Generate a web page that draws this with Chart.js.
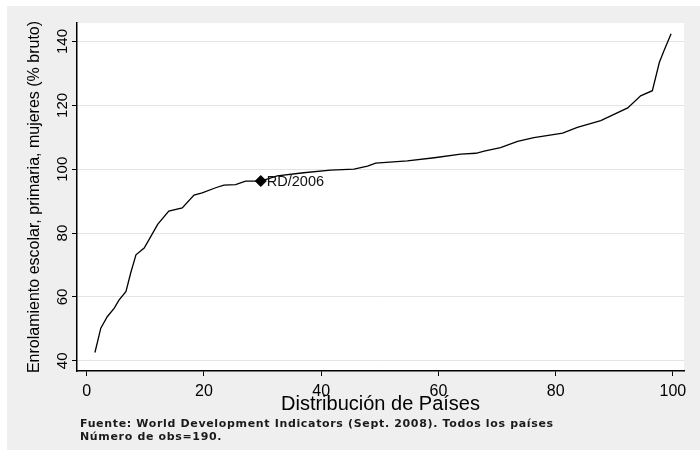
<!DOCTYPE html>
<html>
<head>
<meta charset="utf-8">
<script src="https://cdn.jsdelivr.net/npm/chart.js@4.4.1/dist/chart.umd.min.js"></script>
<style>
  html, body { margin: 0; padding: 0; background: #fff; }
  #wrap { width: 700px; height: 458px; }
</style>
</head>
<body>
<div id="wrap"><canvas id="chart" width="700" height="458"></canvas></div>
<script>
// percentil de países (eje x) y enrolamiento femenino primario (% bruto)
const paisX = [1.4, 2.4, 3.5, 4.7, 5.5, 6.7, 7.5, 8.4, 9.8, 10.8, 12.1, 14, 16.3, 18.3, 19.7,
  22, 23.4, 25.4, 27.1, 29.7, 32.5, 37, 41.6, 45.6, 47.9, 49.3, 54.7, 59.3, 63.8,
  66.4, 67.8, 70.6, 73.5, 76.3, 81.2, 83.7, 87.7, 92.3, 94.5, 96.5, 97.7, 98.5, 99.7];
const enrolY = [42.6, 50.2, 53.8, 56.5, 59, 61.7, 67.5, 73.2, 75.3, 78.5, 82.7, 86.9, 87.9, 91.9, 92.6,
  94.2, 95, 95.2, 96.3, 96.3, 97.9, 98.9, 99.7, 100, 101, 101.9, 102.6, 103.6, 104.7,
  105, 105.7, 106.8, 108.7, 109.9, 111.3, 113.1, 115.2, 119.2, 123, 124.6, 133.5, 137.2, 142.4];

// República Dominicana
const rdX = [29.7];
const rdY = [96.3];
const rdEtiqueta = 'RD/2006';

const xTicks = [0, 20, 40, 60, 80, 100];
const yTicks = [40, 60, 80, 100, 120, 140];

const tituloX = 'Distribución de Países';
const tituloY = 'Enrolamiento escolar, primaria, mujeres (% bruto)';
const notas = [
  'Fuente: World Development Indicators (Sept. 2008). Todos los países',
  'Número de obs=190.'
];

const FONT = '"Liberation Sans", Arial, sans-serif';

const fondo = {
  id: 'fondo',
  beforeDraw(chart) {
    const ctx = chart.ctx, a = chart.chartArea;
    ctx.save();
    ctx.fillStyle = '#fff';
    ctx.fillRect(0, 0, chart.width, chart.height);
    ctx.fillStyle = '#efefef';
    ctx.fillRect(7, 6, chart.width - 7, 444);
    ctx.fillStyle = '#fff';
    ctx.fillRect(a.left, a.top, a.right - a.left, a.bottom - a.top);
    ctx.restore();
  }
};

const etiquetaRD = {
  id: 'etiquetaRD',
  afterDatasetsDraw(chart) {
    const pt = chart.getDatasetMeta(1).data[0];
    if (!pt) return;
    const ctx = chart.ctx;
    ctx.save();
    ctx.font = '14.5px ' + FONT;
    ctx.fillStyle = '#111';
    ctx.textBaseline = 'middle';
    ctx.fillText(rdEtiqueta, pt.x + 6, pt.y + 0.5);
    ctx.restore();
  }
};

// nota al pie, estirada para ocupar el mismo ancho que en la figura original
const nota = {
  id: 'nota',
  afterDraw(chart) {
    const ctx = chart.ctx;
    ctx.save();
    ctx.font = 'bold 11px "DejaVu Sans", sans-serif';
    ctx.fillStyle = '#1a1a1a';
    ctx.textBaseline = 'alphabetic';
    const w = ctx.measureText(notas[0]).width;
    const extra = Math.max(0, (473 - w) / (notas[0].length - 1));
    ctx.letterSpacing = extra.toFixed(2) + 'px';
    notas.forEach((t, i) => ctx.fillText(t, 80, 427 + i * 13));
    ctx.restore();
  }
};

new Chart(document.getElementById('chart'), {
  type: 'line',
  data: {
    datasets: [{
      data: paisX.map((x, i) => ({ x: x, y: enrolY[i] })),
      borderColor: '#000',
      borderWidth: 1.3,
      pointRadius: 0,
      tension: 0,
      fill: false
    }, {
      type: 'scatter',
      data: rdX.map((x, i) => ({ x: x, y: rdY[i] })),
      pointStyle: 'rectRot',
      pointRadius: 5.5,
      backgroundColor: '#000',
      borderColor: '#000',
      showLine: false
    }]
  },
  options: {
    responsive: false,
    animation: false,
    devicePixelRatio: 1,
    layout: { padding: { left: 7, top: 23, right: 16, bottom: 0 } },
    plugins: { legend: { display: false }, tooltip: { enabled: false } },
    scales: {
      x: {
        type: 'linear',
        min: -1.66,
        max: 101.9,
        afterBuildTicks: s => { s.ticks = xTicks.map(v => ({ value: v })); },
        afterFit: s => { s.height = 87; },
        ticks: { color: '#000', font: { family: FONT, size: 16 }, maxRotation: 0, padding: 6 },
        grid: { drawOnChartArea: false, tickLength: 5, tickColor: '#000' },
        border: { color: '#000', width: 1.5 },
        title: {
          display: true, text: tituloX, color: '#000',
          font: { family: FONT, size: 20 }, padding: { top: 0, bottom: 42 }
        }
      },
      y: {
        min: 36.8,
        max: 145.8,
        afterBuildTicks: s => { s.ticks = yTicks.map(v => ({ value: v })); },
        afterFit: s => { s.width = 70; },
        ticks: {
          color: '#000', font: { family: FONT, size: 15 },
          minRotation: 90, maxRotation: 90, crossAlign: 'center', padding: -3
        },
        grid: { color: '#e4e4e4', tickLength: 5, tickColor: '#000' },
        border: { color: '#000', width: 1.5 },
        title: {
          display: true, text: tituloY, color: '#000',
          font: { family: FONT, size: 16 }, padding: { top: 18, bottom: 0 }
        }
      }
    }
  },
  plugins: [fondo, etiquetaRD, nota]
});
</script>
</body>
</html>
